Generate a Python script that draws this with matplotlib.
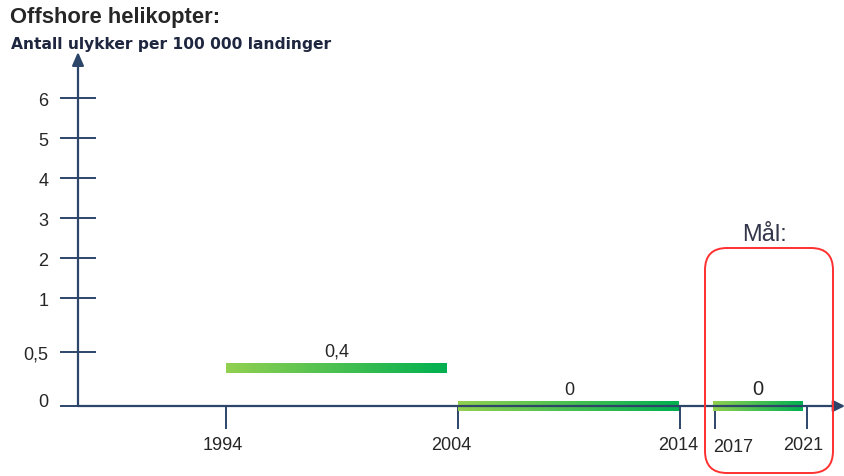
import numpy as np
import matplotlib
matplotlib.use("Agg")
import matplotlib.pyplot as plt
from matplotlib.colors import LinearSegmentedColormap
from matplotlib.patches import FancyBboxPatch
from matplotlib.transforms import IdentityTransform, blended_transform_factory, ScaledTranslation

# ---------------- data ----------------
title = "Offshore helikopter:"
subtitle = "Antall ulykker per 100 000 landinger"
period_start = [1994, 2004, 2017]
period_end = [2004, 2014, 2021]
values = [0.4, 0.0, 0.0]
value_labels = ["0,4", "0", "0"]
x_ticks = [1994, 2004, 2014, 2017, 2021]
y_ticks = [0, 0.5, 1, 2, 3, 4, 5, 6]
y_tick_labels = ["0", "0,5", "1", "2", "3", "4", "5", "6"]
goal_label = "Mål:"

# ---------------- layout (broken scales as in the original) ----------------
W, H = 845, 477
fig = plt.figure(figsize=(W / 100, H / 100), dpi=100)
plt.rcParams['font.family'] = ['Liberation Sans', 'DejaVu Sans']
ax = fig.add_axes([0, 0, 1, 1])
ax.patch.set_alpha(0)

def piecewise(xp, fp):
    xp = np.asarray(xp, float); fp = np.asarray(fp, float)
    def f(v):
        v = np.asarray(v, float)
        out = np.interp(v, xp, fp)
        lo = v < xp[0]; hi = v > xp[-1]
        s0 = (fp[1] - fp[0]) / (xp[1] - xp[0])
        s1 = (fp[-1] - fp[-2]) / (xp[-1] - xp[-2])
        out = np.where(lo, fp[0] + (v - xp[0]) * s0, out)
        out = np.where(hi, fp[-1] + (v - xp[-1]) * s1, out)
        return out
    return f

# x: year -> pixel
xa_year = [1994, 2004, 2014, 2017, 2021]
xa_pix = [226, 458, 680, 715, 807]
xf = piecewise(xa_year, xa_pix)
xi = piecewise(xa_pix, xa_year)
# y: value -> pixel from bottom
ya_val = [0, 0.5, 1, 6]
ya_pix = [H - 407, H - 353, H - 299, H - 99]
yf = piecewise(ya_val, ya_pix)
yi = piecewise(ya_pix, ya_val)

ax.set_xscale('function', functions=(xf, xi))
ax.set_yscale('function', functions=(yf, yi))

axis_color = '#2c4569'
text_color = '#262626'
yaxis_frac = 78 / W

for s in ['top', 'right']:
    ax.spines[s].set_visible(False)
ax.spines['left'].set_position(('axes', yaxis_frac))
ax.spines['bottom'].set_position(('data', 0))
ax.spines['left'].set_visible(False)
ax.spines['bottom'].set_visible(False)

# axis lines with arrows
trans_xa = blended_transform_factory(ax.transAxes, ax.transData)
ax.annotate('', xy=(1.0, 0), xytext=(yaxis_frac, 0), xycoords=trans_xa, textcoords=trans_xa,
            arrowprops=dict(arrowstyle='-|>,head_length=0.7,head_width=0.35', color=axis_color,
                            lw=1.6, shrinkA=0, shrinkB=0), zorder=4)
y_top = float(yi(H - 53))
ax.annotate('', xy=(yaxis_frac, y_top), xytext=(yaxis_frac, 0), xycoords=trans_xa, textcoords=trans_xa,
            arrowprops=dict(arrowstyle='-|>,head_length=0.8,head_width=0.35', color=axis_color,
                            lw=1.6, shrinkA=0, shrinkB=0), zorder=4)

# ticks
ax.set_xticks(x_ticks)
ax.set_xticklabels([str(t) for t in x_ticks])
ax.set_yticks(y_ticks)
ax.set_yticklabels(y_tick_labels)
ax.minorticks_off()
ax.tick_params(axis='x', direction='out', length=16.5, width=1.4, color=axis_color,
               pad=5, labelsize=13, labelcolor=text_color)
ax.tick_params(axis='y', direction='inout', length=26.5, width=1.4, color=axis_color,
               pad=8, labelsize=13, labelcolor=text_color)
for lbl in ax.get_yticklabels():
    if lbl.get_text() == "0":
        lbl.set_transform(lbl.get_transform() + ScaledTranslation(0, 6 / 100, fig.dpi_scale_trans))
# small label nudges as in the original (pixels)
x_label_nudge = {"1994": (-3, 0), "2004": (-7, 0), "2014": (-2, 0), "2017": (18, -2), "2021": (-4, 0)}
for lbl in ax.get_xticklabels():
    dx, dy = x_label_nudge.get(lbl.get_text(), (0, 0))
    lbl.set_transform(lbl.get_transform() + ScaledTranslation(dx / 100, dy / 100, fig.dpi_scale_trans))

# gradient bars
cmap = LinearSegmentedColormap.from_list('grn', ['#92d050', '#00b050'])
grad = np.linspace(0, 1, 256).reshape(1, -1)
bar_h = 10 / 108
end_inset_px = [11, 0, 4]
start_inset_px = [0, 0, -2]
for s, e, v, lab, fs, ei, si in zip(period_start, period_end, values, value_labels,
                                    [13, 13, 14.5], end_inset_px, start_inset_px):
    x0 = float(xi(xf(s) + si))
    x1 = float(xi(xf(e) - ei))
    bottom = max(v - bar_h, -bar_h / 2)
    top = bottom + bar_h
    ax.imshow(grad, cmap=cmap, aspect='auto', extent=(x0, x1, bottom, top),
              interpolation='bilinear', zorder=3)
    ax.annotate(lab, xy=(float(xi((xf(x0) + xf(x1)) / 2)), top),
                xytext=(0, 2.5), textcoords='offset points', ha='center', va='bottom',
                fontsize=fs, color=text_color, zorder=5)

ax.set_xlim(float(xi(0)), float(xi(W)))
ax.set_ylim(float(yi(0)), float(yi(H)))

# goal box
box = FancyBboxPatch((705, H - 474), 128, 225, boxstyle='round,pad=0,rounding_size=22',
                     transform=IdentityTransform(), fill=False, edgecolor='#ff3030', lw=1.4,
                     zorder=2)
fig.patches.append(box)
fig.text(765 / W, 1 - 235 / H, goal_label, ha='center', va='center', fontsize=17,
         color='#33364a')

# titles
fig.text(10 / W, 1 - 18 / H, title, ha='left', va='center', fontsize=15.8, fontweight='bold',
         color=text_color)
fig.text(11 / W, 1 - 44 / H, subtitle, ha='left', va='center', fontsize=11.2, fontweight='bold',
         color='#1f2740', family=['DejaVu Sans'])

fig.savefig('out.png', dpi=100)
